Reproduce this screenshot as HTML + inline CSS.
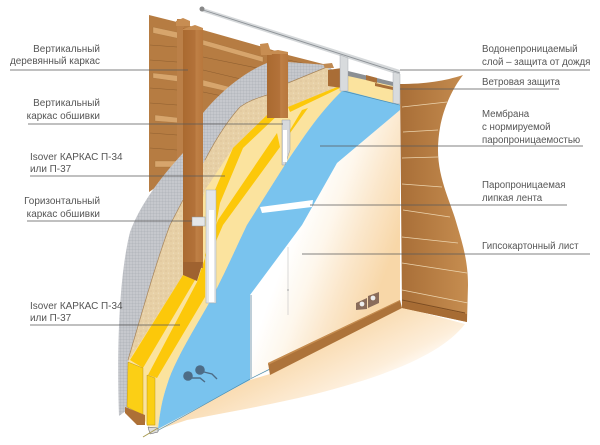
<!DOCTYPE html>
<html><head><meta charset="utf-8"><style>
html,body{margin:0;padding:0;background:#fff}
svg{display:block}
text{font-family:"Liberation Sans",sans-serif;font-size:9.7px;fill:#555}
.l{font-size:9.95px}
.r{text-anchor:end}
</style></head><body>
<svg width="600" height="445" viewBox="0 0 600 445" xmlns="http://www.w3.org/2000/svg">
<defs>
<pattern id="m" width="3" height="3" patternUnits="userSpaceOnUse"><rect width="3" height="3" fill="#c6c8cd"/><path d="M0 0H3M0 0V3" stroke="#a2a6ae" stroke-width=".5"/></pattern>
<pattern id="o" width="5" height="5" patternUnits="userSpaceOnUse"><rect width="5" height="5" fill="#e7d0a6"/><circle cx="1" cy="1" r=".8" fill="#dec39a"/><circle cx="3.5" cy="3.2" r=".7" fill="#eedcbb"/></pattern>
<linearGradient id="wall" x1="305" y1="205" x2="398" y2="240" gradientUnits="userSpaceOnUse"><stop offset="0" stop-color="#fff"/><stop offset=".3" stop-color="#fef7ec"/><stop offset=".62" stop-color="#fbe7cb"/><stop offset="1" stop-color="#f8d7a8"/></linearGradient>
<linearGradient id="floor" x1="345" y1="325" x2="378" y2="392" gradientUnits="userSpaceOnUse"><stop offset="0" stop-color="#f9d9ac"/><stop offset=".7" stop-color="#fdeeda"/><stop offset="1" stop-color="#fff"/></linearGradient>
<linearGradient id="post" x1="0" x2="1" y1="0" y2="0"><stop offset="0" stop-color="#aa6a30"/><stop offset=".62" stop-color="#b3723a"/><stop offset=".64" stop-color="#bf8046"/><stop offset="1" stop-color="#b8773c"/></linearGradient>
<linearGradient id="rw" x1="402" x2="465" y1="0" y2="0" gradientUnits="userSpaceOnUse"><stop offset="0" stop-color="#a96f38"/><stop offset="1" stop-color="#c58c4f"/></linearGradient>
</defs>

<!-- back wood wall -->
<path d="M149 15L177 22L203 30L263 47L288 55L327 65L335 75L210 150L149 192Z" fill="#b67c42"/>
<path d="M150 45L177 47M150 60L177 62M150 88L177 90M150 103L177 105M150 133L177 135M150 148L177 150M203 57L257 68M203 70L245 80M203 92L232 98M288 60L325 68" stroke="#8f5f30" stroke-width=".6" fill="none"/>
<path d="M153 27L181 33V39L153 33ZM203 40L263 57V62L203 45ZM153 73L181 76V82L153 78ZM203 80L230 87V92L203 86ZM155 115L181 118V123L155 121ZM155 161L177 161V167L155 167Z" fill="#d7a56c" stroke="#a06f3a" stroke-width=".3"/>
<rect x="177" y="19" width="7" height="140" fill="#bb8048"/>
<path d="M176 21L183 18L190 21V26H176Z" fill="#c78d52"/>

<!-- mesh -->
<path d="M119 416C117 360 118 280 130 232C140 205 160 178 183 153L203 113C222 90 245 72 267 63L288 62L327 65L335 72L170 380L127 410Z" fill="url(#m)"/>

<!-- OSB -->
<path d="M128 360C140 320 155 265 170 225L183 200L205 160C218 135 230 118 240 107C250 100 258 98 267 95L288 83L327 67L340 85L215 260L150 370Z" fill="url(#o)"/>
<path d="M128 360C140 320 155 265 170 225L183 200M205 160C218 135 230 118 240 107C250 100 258 98 267 95M288 83L327 67" fill="none" stroke="#a9865a" stroke-width=".7"/>

<!-- cream base -->
<path d="M128 362L183 275L205 190L233 148L267 115L288 107L337 87L345 91C320 112 305 135 288 160L247 225C235 250 222 280 208 305C195 328 175 360 167 385C162 400 160 415 158 427L147 426L143 415L127 407Z" fill="#fbe39e"/>

<!-- yellow outer layer -->
<path d="M130 360L183 275L195 280L143 368Z" fill="#fcc80a"/>
<path d="M128 362L143 368L143 415L127 407Z" fill="#fbcf15" stroke="#b48c10" stroke-width=".4"/>
<path d="M215 190L233 148L243 148L220 203L216 225L207 232Z" fill="#fcc80a"/>
<path d="M233 148L267 115L280 113L243 148Z" fill="#fcc80a"/>
<path d="M288 107L337 87L340 88L290 112Z" fill="#fcc80a"/>
<!-- yellow inner layer -->
<path d="M148 375L197 282L205 258L205 297L157 378Z" fill="#fcc80a"/>
<path d="M147 375L155 378V425H147Z" fill="#fbcf15" stroke="#b48c10" stroke-width=".4"/>
<path d="M205 255L218 220L277 133L280 147L223 225L207 262Z" fill="#fcc80a"/>
<path d="M290 130L302 110L308 108L290 133Z" fill="#fcc80a"/>

<!-- top piece between supports -->
<path d="M348 72L393 83V103L348 92Z" fill="#fbe39e"/>
<path d="M348 71L393 82V86L348 76Z" fill="#8c9094"/>
<path d="M366 75L377 78V83L366 80ZM375 83L393 87V90L375 86Z" fill="#a96f38"/>
<path d="M328 70L342 68V88L328 86Z" fill="#a96d36"/>
<path d="M323 64L332 63L334 68H325Z" fill="#c08a52"/>

<!-- interior wall -->
<path d="M250 295L337 163L400 108V302L270 370L250 380Z" fill="url(#wall)"/>
<!-- floor -->
<path d="M250 380L270 374L402 307L465 324C445 350 400 372 323 392C280 403 230 412 187 420L157 430Z" fill="url(#floor)"/>
<!-- blue membrane -->
<path d="M158 429C160 412 162 400 167 385C175 360 195 328 208 305C222 280 235 250 247 225L288 160C305 135 320 112 343 90L400 105V110L337 163L302 225L250 295V380Z" fill="#79c3ee"/>
<path d="M157 431L252 378L270 369M343 91L400 105" stroke="#4d8eb0" stroke-width=".7" fill="none"/>
<path d="M251 295V378" stroke="#b7c8d3" stroke-width="1.8" fill="none"/>
<path d="M260 207L313 200L312 207L262 213Z" fill="#fff"/>
<!-- bottom wood sill -->
<path d="M125 407L145 415V425H137L125 413Z" fill="#ad7036"/>
<path d="M148 427L158 428V432L150 434Z" fill="#dcdcdc" stroke="#555" stroke-width=".5"/>
<path d="M143 437L158 428" stroke="#a89a50" stroke-width="1"/>
<!-- door handle -->
<circle cx="188" cy="376" r="4.8" fill="#4d6c86"/><circle cx="200" cy="370" r="4.8" fill="#4d6c86"/>
<path d="M204 372L212 374L217 379M192 378L200 378L205 382" stroke="#4d6c86" stroke-width="1.4" fill="none"/>
<!-- seam -->
<path d="M288 247V315" stroke="#c9c9c9" stroke-width=".7"/>
<circle cx="288" cy="290" r="1" fill="#bbb"/>
<!-- baseboard -->
<path d="M268 363L400 300L402 308L270 375Z" fill="#ad733a"/>
<path d="M268 363L400 300V301L268 365Z" fill="#c58c4f"/>
<!-- sockets -->
<path d="M356 303L367 298V309L356 310Z" fill="#8a6c5a"/><path d="M368 296L379 292V303L368 308Z" fill="#8a6c5a"/>
<circle cx="362" cy="304" r="2.4" fill="#eee"/><circle cx="373" cy="298" r="2.4" fill="#eee"/>

<!-- right wood wall -->
<path d="M400 84C425 84 445 81 463 75C450 92 438 118 438 150C438 180 452 205 457 225C463 245 468 262 468 285L467 322L402 308Z" fill="url(#rw)"/>
<path d="M402 107L447 102M403 132L438 130M402 158L438 157M402 184L442 187M403 210L450 217M402 237L458 243M402 263L467 273M402 290L468 303" stroke="#ecd4ae" stroke-width=".8" fill="none"/>
<path d="M402 300L465 313" stroke="#7d4d22" stroke-width="1" fill="none"/>
<path d="M402 301L467 314V322L402 308Z" fill="#a76c34"/>

<!-- posts -->
<rect x="183" y="28" width="20" height="240" fill="url(#post)"/>
<path d="M183 29L195 25L203 28V30H183Z" fill="#c78d52"/>
<path d="M183 262H203L197 281L183 275Z" fill="#9f6230"/>
<rect x="267" y="52" width="21" height="66" fill="url(#post)"/>
<path d="M267 52L278 50L288 52V54H267Z" fill="#c78d52"/>
<path d="M260 44L268 43L272 55H261Z" fill="#c78d52"/>
<!-- metal channels -->
<rect x="206" y="190" width="10" height="113" fill="#e4e6e8" stroke="#a7adb2" stroke-width=".5"/>
<rect x="209" y="210" width="5" height="92" fill="#fff"/>
<path d="M282 120H290V150L285 165H282Z" fill="#d6d9dc" stroke="#9aa0a6" stroke-width=".5"/>
<rect x="283" y="130" width="4" height="32" fill="#fff"/>
<rect x="192" y="217" width="13" height="9" fill="#e4e6e8" stroke="#8e949a" stroke-width=".5"/>
<!-- top rod and supports -->
<path d="M200 7L400 70L399 75L200 11Z" fill="#d5d8da"/>
<path d="M200 9L400 73" stroke="#8d9297" stroke-width=".9" fill="none"/>
<circle cx="202" cy="9" r="2.5" fill="#888"/>
<path d="M340 55L348 58V91H340Z" fill="#d8dbdd" stroke="#9aa0a6" stroke-width=".4"/>
<path d="M393 72L400 74V104L393 103Z" fill="#d8dbdd" stroke="#9aa0a6" stroke-width=".4"/>

<!-- leader lines -->
<g stroke="#5a5a5a" stroke-width=".7" fill="none">
<path d="M10 70H188M28 124H283M30 176H225M27 221H192M30 325H180"/>
<path d="M400 70H590M400 89H559M320 146H583M310 205H567M302 254H590"/>
</g>

<!-- labels -->
<text class="r l" x="100" y="52">Вертикальный</text>
<text class="r l" x="100" y="64">деревянный каркас</text>
<text class="r l" x="100" y="106">Вертикальный</text>
<text class="r l" x="100" y="119">каркас обшивки</text>
<text class="l" x="30" y="160">Isover КАРКАС П-34</text>
<text class="l" x="30" y="172">или П-37</text>
<text class="r l" x="100" y="204">Горизонтальный</text>
<text class="r l" x="100" y="217">каркас обшивки</text>
<text class="l" x="30" y="309">Isover КАРКАС П-34</text>
<text class="l" x="30" y="321">или П-37</text>
<text x="482" y="52">Водонепроницаемый</text>
<text x="482" y="65">слой – защита от дождя</text>
<text x="482" y="85">Ветровая защита</text>
<text x="482" y="117">Мембрана</text>
<text x="482" y="130">с нормируемой</text>
<text x="482" y="143">паропроницаемостью</text>
<text x="482" y="188">Паропроницаемая</text>
<text x="482" y="201">липкая лента</text>
<text x="482" y="249">Гипсокартонный лист</text>
</svg>
</body></html>
